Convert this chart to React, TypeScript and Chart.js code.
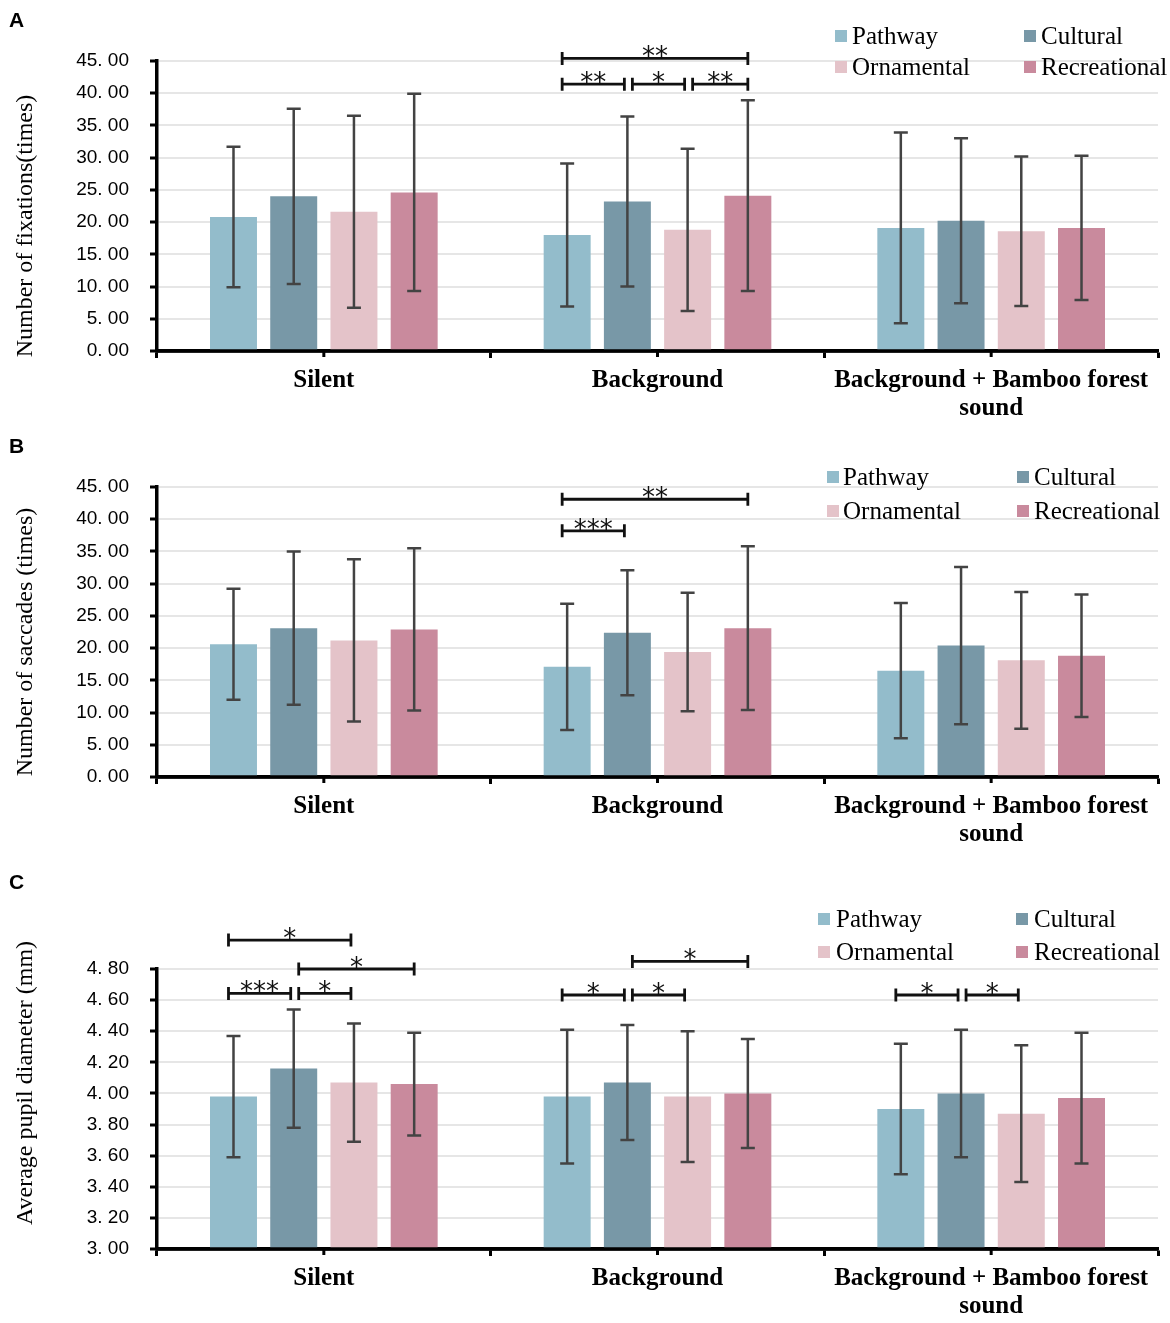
import React, { useEffect, useRef } from 'react';
import { Chart, registerables } from 'chart.js';

Chart.register(...registerables);

// ---------- shared ----------
const categories = [['Silent'], ['Background'], ['Background + Bamboo forest', 'sound']];
const seriesNames = ['Pathway', 'Cultural', 'Ornamental', 'Recreational'];
const seriesColors = ['#93bccb', '#7898a7', '#e4c3c9', '#c98a9d'];

// ---------- A: number of fixations ----------
const fixPathway = [20.8, 18.0, 19.1];
const fixCultural = [24.0, 23.2, 20.2];
const fixOrnamental = [21.6, 18.8, 18.6];
const fixRecreational = [24.6, 24.1, 19.1];
const fixPathwaySD = [10.9, 11.1, 14.8];
const fixCulturalSD = [13.6, 13.2, 12.8];
const fixOrnamentalSD = [14.9, 12.6, 11.6];
const fixRecreationalSD = [15.3, 14.8, 11.2];
const fixTicks = [0, 5, 10, 15, 20, 25, 30, 35, 40, 45];
const fixBrackets = [
  { group: 1, from: 0, to: 3, level: 45.4, label: '**' },
  { group: 1, from: 0, to: 1, level: 41.4, label: '**' },
  { group: 1, from: 1, to: 2, level: 41.4, label: '*' },
  { group: 1, from: 2, to: 3, level: 41.4, label: '**' },
];

// ---------- B: number of saccades ----------
const sacPathway = [20.6, 17.1, 16.5];
const sacCultural = [23.1, 22.4, 20.4];
const sacOrnamental = [21.2, 19.4, 18.1];
const sacRecreational = [22.9, 23.1, 18.8];
const sacPathwaySD = [8.6, 9.8, 10.5];
const sacCulturalSD = [11.9, 9.7, 12.2];
const sacOrnamentalSD = [12.6, 9.2, 10.6];
const sacRecreationalSD = [12.6, 12.7, 9.5];
const sacTicks = [0, 5, 10, 15, 20, 25, 30, 35, 40, 45];
const sacBrackets = [
  { group: 1, from: 0, to: 3, level: 43.1, label: '**' },
  { group: 1, from: 0, to: 1, level: 38.2, label: '***' },
];

// ---------- C: average pupil diameter ----------
const pupPathway = [3.98, 3.98, 3.9];
const pupCultural = [4.16, 4.07, 4.0];
const pupOrnamental = [4.07, 3.98, 3.87];
const pupRecreational = [4.06, 4.0, 3.97];
const pupPathwaySD = [0.39, 0.43, 0.42];
const pupCulturalSD = [0.38, 0.37, 0.41];
const pupOrnamentalSD = [0.38, 0.42, 0.44];
const pupRecreationalSD = [0.33, 0.35, 0.42];
const pupTicks = [3.0, 3.2, 3.4, 3.6, 3.8, 4.0, 4.2, 4.4, 4.6, 4.8];
const pupBrackets = [
  { group: 0, from: 0, to: 2, level: 4.986, label: '*' },
  { group: 0, from: 1, to: 3, level: 4.8, label: '*' },
  { group: 0, from: 0, to: 1, level: 4.643, label: '***' },
  { group: 0, from: 1, to: 2, level: 4.643, label: '*' },
  { group: 1, from: 1, to: 3, level: 4.849, label: '*' },
  { group: 1, from: 0, to: 1, level: 4.633, label: '*' },
  { group: 1, from: 1, to: 2, level: 4.633, label: '*' },
  { group: 2, from: 0, to: 1, level: 4.633, label: '*' },
  { group: 2, from: 1, to: 2, level: 4.633, label: '*' },
];

const panels = [
  {
    letter: 'A',
    title: 'Number of fixations(times)',
    values: [fixPathway, fixCultural, fixOrnamental, fixRecreational],
    errors: [fixPathwaySD, fixCulturalSD, fixOrnamentalSD, fixRecreationalSD],
    ticks: fixTicks,
    brackets: fixBrackets,
    canvasH: 426, plotTop: 61, plotBottom: 351, titleY: 226,
    legSq: [835, 1024], legTx: [852, 1041], legRows: [36, 67],
  },
  {
    letter: 'B',
    title: 'Number of saccades (times)',
    values: [sacPathway, sacCultural, sacOrnamental, sacRecreational],
    errors: [sacPathwaySD, sacCulturalSD, sacOrnamentalSD, sacRecreationalSD],
    ticks: sacTicks,
    brackets: sacBrackets,
    canvasH: 436, plotTop: 61, plotBottom: 351, titleY: 216,
    legSq: [827, 1017], legTx: [843, 1034], legRows: [51, 85],
  },
  {
    letter: 'C',
    title: 'Average pupil diameter (mm)',
    values: [pupPathway, pupCultural, pupOrnamental, pupRecreational],
    errors: [pupPathwaySD, pupCulturalSD, pupOrnamentalSD, pupRecreationalSD],
    ticks: pupTicks,
    brackets: pupBrackets,
    canvasH: 461, plotTop: 107, plotBottom: 387, titleY: 221,
    legSq: [818, 1016], legTx: [836, 1034], legRows: [57, 90],
  },
];

const W = 1170;
const AXIS_X = 157;
const PLOT_RIGHT = 1158;

function fmtTick(v: number) {
  return v.toFixed(2).replace('.', '. ');
}

function makeOverlay(cfg: any) {
  return {
    id: 'overlay' + cfg.letter,
    afterDatasetsDraw(chart: any) {
      const ctx = chart.ctx;
      const y = chart.scales.y;
      const area = chart.chartArea;
      ctx.save();
      // error bars
      chart.data.datasets.forEach((ds: any, di: number) => {
        const meta = chart.getDatasetMeta(di);
        meta.data.forEach((bar: any, i: number) => {
          const m = ds.data[i];
          const e = cfg.errors[di][i];
          const yt = y.getPixelForValue(m + e);
          const yb = y.getPixelForValue(m - e);
          const x = bar.x;
          ctx.strokeStyle = '#434343';
          ctx.lineWidth = 2.5;
          ctx.beginPath();
          ctx.moveTo(x, yt);
          ctx.lineTo(x, yb);
          ctx.moveTo(x - 7, yt);
          ctx.lineTo(x + 7, yt);
          ctx.moveTo(x - 7, yb);
          ctx.lineTo(x + 7, yb);
          ctx.stroke();
        });
      });
      // x axis line on top of bars
      ctx.strokeStyle = '#000';
      ctx.lineWidth = 3.5;
      ctx.beginPath();
      ctx.moveTo(area.left - 1.5, area.bottom);
      ctx.lineTo(area.right, area.bottom);
      ctx.stroke();
      // center ticks
      const xs = chart.scales.x;
      ctx.lineWidth = 3;
      categories.forEach((_, i) => {
        const px = xs.getPixelForValue(i);
        ctx.beginPath();
        ctx.moveTo(px, area.bottom);
        ctx.lineTo(px, area.bottom + 6);
        ctx.stroke();
      });
      ctx.restore();
    },
    afterDraw(chart: any) {
      const ctx = chart.ctx;
      const y = chart.scales.y;
      ctx.save();
      // significance brackets
      const barX = (g: number, s: number) => chart.getDatasetMeta(s).data[g].x;
      cfg.brackets.forEach((b: any) => {
        const x1 = barX(b.group, b.from) + (b.from === 0 ? -5 : 5);
        const x2 = barX(b.group, b.to) + (b.to === 3 ? 0 : -3);
        const py = y.getPixelForValue(b.level);
        ctx.strokeStyle = '#111';
        ctx.lineWidth = 2.8;
        ctx.beginPath();
        ctx.moveTo(x1, py);
        ctx.lineTo(x2, py);
        ctx.moveTo(x1, py - 6.5);
        ctx.lineTo(x1, py + 6.5);
        ctx.moveTo(x2, py - 6.5);
        ctx.lineTo(x2, py + 6.5);
        ctx.stroke();
        ctx.fillStyle = '#111';
        ctx.font = '26px "DejaVu Sans"';
        ctx.textAlign = 'center';
        ctx.textBaseline = 'alphabetic';
        ctx.fillText(b.label, (x1 + x2) / 2, py + 7);
      });
      // legend
      seriesNames.forEach((name, i) => {
        const col = i % 2;
        const row = Math.floor(i / 2);
        const cy = cfg.legRows[row];
        ctx.fillStyle = seriesColors[i];
        ctx.fillRect(cfg.legSq[col], cy - 6, 12, 12);
        ctx.fillStyle = '#000';
        ctx.font = '25px "Liberation Serif"';
        ctx.textAlign = 'left';
        ctx.textBaseline = 'alphabetic';
        ctx.fillText(name, cfg.legTx[col], cy + 8);
      });
      // y title
      ctx.save();
      ctx.translate(26, cfg.titleY);
      ctx.rotate(-Math.PI / 2);
      ctx.fillStyle = '#000';
      ctx.font = '24px "Liberation Serif"';
      ctx.textAlign = 'center';
      ctx.textBaseline = 'middle';
      ctx.fillText(cfg.title, 0, 0);
      ctx.restore();
      // panel letter
      ctx.fillStyle = '#000';
      ctx.font = 'bold 21px "Liberation Sans"';
      ctx.textAlign = 'left';
      ctx.textBaseline = 'alphabetic';
      ctx.fillText(cfg.letter, 9, 27);
      ctx.restore();
    },
  };
}

function Panel({ cfg }: { cfg: any }) {
  const ref = useRef<HTMLCanvasElement | null>(null);
  useEffect(() => {
    if (!ref.current) return;
    const chart = new Chart(ref.current, {
      type: 'bar',
      data: {
        labels: categories as any,
        datasets: seriesNames.map((name, i) => ({
          label: name,
          data: cfg.values[i],
          backgroundColor: seriesColors[i],
          borderWidth: 0,
          categoryPercentage: 0.722,
          barPercentage: 0.78,
        })),
      },
      options: {
        animation: false,
        responsive: false,
        devicePixelRatio: 1,
        layout: { padding: { top: cfg.plotTop, right: W - PLOT_RIGHT, left: 0, bottom: 0 } },
        plugins: { legend: { display: false }, tooltip: { enabled: false } },
        scales: {
          x: {
            type: 'category',
            offset: true,
            grid: {
              display: true,
              drawOnChartArea: false,
              offset: true,
              tickLength: 7,
              tickColor: '#000',
              tickWidth: 3,
            },
            border: { display: true, color: '#000', width: 3.5 },
            ticks: {
              color: '#000',
              font: { family: 'Liberation Serif', size: 25, weight: 'bold', lineHeight: 1.12 },
              padding: 9,
              maxRotation: 0,
              autoSkip: false,
            },
            afterFit: (s: any) => {
              s.height = cfg.canvasH - cfg.plotBottom;
            },
          },
          y: {
            type: 'linear',
            min: cfg.ticks[0],
            max: cfg.ticks[cfg.ticks.length - 1],
            afterBuildTicks: (s: any) => {
              s.ticks = cfg.ticks.map((v: number) => ({ value: v }));
            },
            ticks: {
              color: '#000',
              font: { family: 'Liberation Sans', size: 19 },
              padding: 21,
              callback: (v: any) => fmtTick(Number(v)),
            },
            grid: {
              color: '#e6e6e6',
              lineWidth: 2,
              tickLength: 7,
              tickColor: '#000',
              tickWidth: 3,
            },
            border: { display: true, color: '#000', width: 3.5 },
            afterFit: (s: any) => {
              s.width = AXIS_X;
            },
          },
        },
      },
      plugins: [makeOverlay(cfg)],
    } as any);
    return () => chart.destroy();
  }, []);
  return (
    <canvas
      ref={ref}
      width={W}
      height={cfg.canvasH}
      style={{ display: 'block', width: W, height: cfg.canvasH }}
    />
  );
}

export default function App() {
  return (
    <div style={{ position: 'absolute', left: 0, top: 0, width: W, height: 1323, background: '#fff' }}>
      {panels.map((p) => (
        <Panel key={p.letter} cfg={p} />
      ))}
    </div>
  );
}
